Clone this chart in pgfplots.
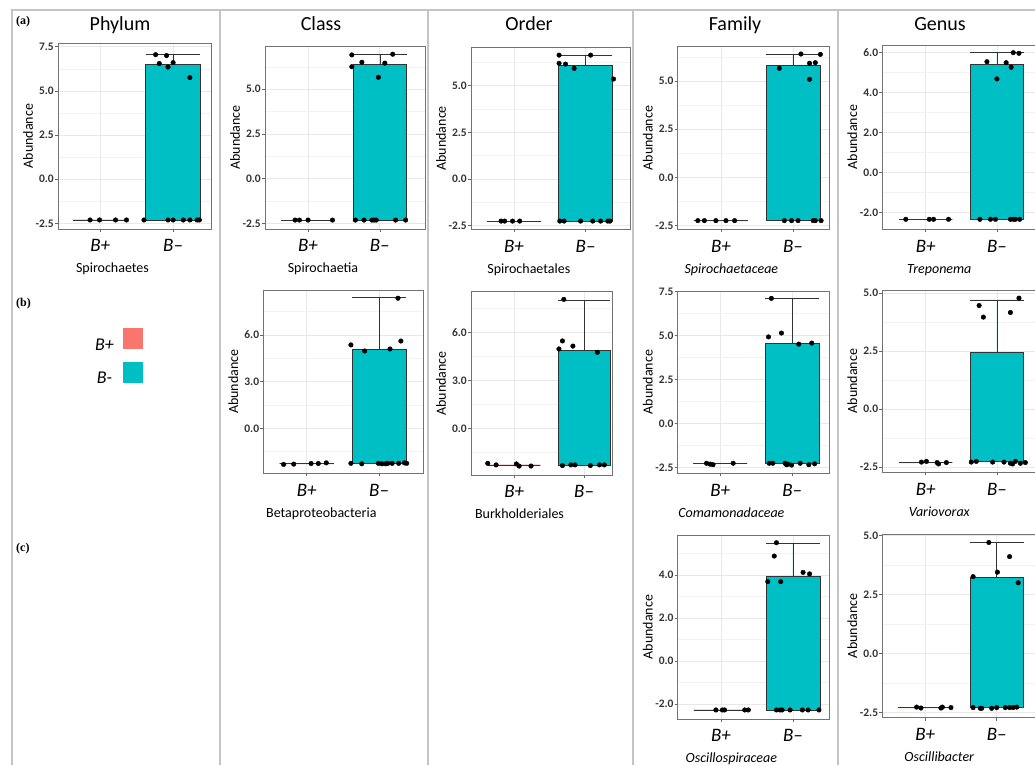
\documentclass[border=0pt]{standalone}
\usepackage{pgfplots}
\pgfplotsset{compat=1.18}
\usepgfplotslibrary{statistics}
\usepackage{fontspec}
\setmainfont{Carlito}
\newfontfamily\serifb{Liberation Serif}
\definecolor{bplus}{HTML}{F8766D}
\definecolor{bminus}{HTML}{00BFC4}
\definecolor{sep}{HTML}{C4C4C4}
\pgfplotsset{
 panel/.style={
  scale only axis, anchor=south west,
  axis line style={draw=black!55, line width=0.8pt},
  tick pos=left, tick align=outside,
  major tick length=3pt, minor tick length=0pt,
  tick style={black!60, line width=0.6pt},
  xtick={1,2}, xticklabels={B+,B–},
  xticklabel style={font=\fontsize{19}{19}\selectfont\itshape, anchor=base, yshift=-20pt},
  yticklabel style={font=\fontsize{11.5}{12}\selectfont\bfseries, text=black!80, inner sep=1pt},
  xmajorgrids, ymajorgrids, yminorgrids,
  major grid style={black!9, line width=0.7pt},
  minor grid style={black!5, line width=0.5pt},
  ylabel={Abundance},
  ylabel style={font=\fontsize{14}{14}\selectfont, at={(axis description cs:0,0.5)}, anchor=center, yshift=30pt},
  xlabel style={font=\fontsize{14}{14}\selectfont, at={(axis description cs:0.5,0)}, anchor=base, yshift=-44pt, xshift=-22pt},
  boxplot/draw direction=y,
 },
 bxp/.style={draw=black!80, line width=0.6pt},
 pts/.style={only marks, mark=*, mark size=2.3pt, black},
}
\begin{document}
\begin{tikzpicture}[x=1pt,y=1pt]
\useasboundingbox (0pt,0pt) rectangle (1035pt,765pt);
\clip (0pt,0pt) rectangle (1035pt,765pt);
% frame
\draw[sep, line width=1.5pt] (12pt,0pt) -- (12pt,755pt) -- (1040pt,755pt);
\foreach \xx in {220,428,633,838} \draw[sep, line width=1.5pt] (\xx pt,0pt) -- (\xx pt,755pt);
% titles
\foreach \xx/\tt in {120/Phylum,321/Class,529/Order,735/Family,940/Genus}
  \node[font=\fontsize{20}{20}\selectfont, anchor=base] at (\xx pt,734pt) {\tt};
\node[font=\serifb\bfseries\fontsize{12}{12}\selectfont, anchor=base west, inner sep=0] at (16pt,740pt) {(a)};
\node[font=\serifb\bfseries\fontsize{12}{12}\selectfont, anchor=base west, inner sep=0] at (16pt,458pt) {(b)};
\node[font=\serifb\bfseries\fontsize{12}{12}\selectfont, anchor=base west, inner sep=0] at (16pt,213pt) {(c)};

% legend
\begin{axis}[hide axis, scale only axis, width=50pt, height=50pt, at={(143pt,437pt)}, anchor=north east,
  xmin=0, xmax=1, ymin=0, ymax=1,
  legend plot pos=right,
  legend image code/.code={\fill[#1, draw=none] (0pt,-4pt) rectangle (20pt,17pt);},
  legend style={at={(1,1)}, anchor=north east, draw=none, fill=none, inner sep=0pt,
    row sep=9pt, column sep=8pt, font=\fontsize{18}{18}\selectfont\itshape,
    nodes={inner sep=1pt}}]
\addlegendimage{fill=bplus, draw=none}\addlegendentry{B+}
\addlegendimage{fill=bminus, draw=none}\addlegendentry{B-}
\end{axis}

% ---------- Row (a) ----------
\begin{axis}[panel, at={(58pt,536pt)}, width=153pt, height=186pt,
  xmin=0.42, xmax=2.52, ymin=-2.82, ymax=7.71,
  ytick={-2.5,0,2.5,5,7.5}, yticklabels={-2.5,0.0,2.5,5.0,7.5}, minor ytick={-1.25,1.25,3.75,6.25},
  xlabel={Spirochaetes}]
\addplot[bxp, fill=bplus, boxplot prepared={draw position=1, box extend=0.75, whisker extend=0.75, lower whisker=-2.31, lower quartile=-2.31, median=-2.31, upper quartile=-2.31, upper whisker=-2.31}] coordinates {};
\addplot[bxp, fill=bminus, boxplot prepared={draw position=2, box extend=0.75, whisker extend=0.75, lower whisker=-2.31, lower quartile=-2.31, median=-2.31, upper quartile=6.5, upper whisker=7.05}] coordinates {};
\addplot[pts] coordinates {(0.86,-2.31) (0.99,-2.31) (1.21,-2.31) (1.36,-2.31)
 (1.76,7.05) (1.91,7.0) (1.81,6.55) (1.93,6.35) (2.0,6.6) (2.23,5.75)
 (1.60,-2.31) (1.93,-2.31) (2.0,-2.31) (2.14,-2.31) (2.23,-2.31) (2.33,-2.31) (2.36,-2.31)};
\end{axis}

\begin{axis}[panel, at={(265pt,536pt)}, width=160pt, height=183pt,
  xmin=0.40, xmax=2.63, ymin=-2.82, ymax=7.42,
  ytick={-2.5,0,2.5,5}, yticklabels={-2.5,0.0,2.5,5.0}, minor ytick={-1.25,1.25,3.75,6.25},
  xlabel={Spirochaetia}]
\addplot[bxp, fill=bplus, boxplot prepared={draw position=1, box extend=0.75, whisker extend=0.75, lower whisker=-2.32, lower quartile=-2.32, median=-2.32, upper quartile=-2.32, upper whisker=-2.32}] coordinates {};
\addplot[bxp, fill=bminus, boxplot prepared={draw position=2, box extend=0.75, whisker extend=0.75, lower whisker=-2.32, lower quartile=-2.32, median=-2.32, upper quartile=6.40, upper whisker=6.96}] coordinates {};
\addplot[pts] coordinates {(0.82,-2.32) (0.88,-2.32) (1.0,-2.32) (1.34,-2.32)
 (1.61,6.26) (1.61,6.92) (1.75,6.51) (1.98,5.67) (2.07,6.46) (2.18,6.96)
 (1.66,-2.32) (1.78,-2.32) (1.89,-2.32) (1.92,-2.32) (1.95,-2.32) (2.22,-2.32) (2.36,-2.32)};
\end{axis}

\begin{axis}[panel, at={(471pt,535.7pt)}, width=159.7pt, height=182pt,
  xmin=0.40, xmax=2.63, ymin=-2.69, ymax=7.06,
  ytick={-2.5,0,2.5,5}, yticklabels={-2.5,0.0,2.5,5.0}, minor ytick={-1.25,1.25,3.75,6.25},
  xlabel={Spirochaetales}]
\addplot[bxp, fill=bplus, boxplot prepared={draw position=1, box extend=0.75, whisker extend=0.75, lower whisker=-2.25, lower quartile=-2.25, median=-2.25, upper quartile=-2.25, upper whisker=-2.25}] coordinates {};
\addplot[bxp, fill=bminus, boxplot prepared={draw position=2, box extend=0.75, whisker extend=0.75, lower whisker=-2.25, lower quartile=-2.25, median=-2.25, upper quartile=6.07, upper whisker=6.64}] coordinates {};
\addplot[pts] coordinates {(0.82,-2.25) (0.87,-2.25) (0.98,-2.25) (1.08,-2.25)
 (1.63,6.2) (1.72,6.16) (1.84,5.93) (1.63,6.64) (2.07,6.64) (2.39,5.36)
 (1.64,-2.25) (1.70,-2.25) (1.93,-2.25) (2.10,-2.25) (2.21,-2.25) (2.31,-2.25) (2.34,-2.25)};
\end{axis}

\begin{axis}[panel, at={(677.7pt,535.7pt)}, width=151.3pt, height=182.6pt,
  xmin=0.40, xmax=2.50, ymin=-2.69, ymax=6.78,
  ytick={-2.5,0,2.5,5}, yticklabels={-2.5,0.0,2.5,5.0}, minor ytick={-1.25,1.25,3.75,6.25},
  xlabel={\textit{Spirochaetaceae}}]
\addplot[bxp, fill=bplus, boxplot prepared={draw position=1, box extend=0.75, whisker extend=0.75, lower whisker=-2.24, lower quartile=-2.24, median=-2.24, upper quartile=-2.24, upper whisker=-2.24}] coordinates {};
\addplot[bxp, fill=bminus, boxplot prepared={draw position=2, box extend=0.75, whisker extend=0.75, lower whisker=-2.24, lower quartile=-2.24, median=-2.24, upper quartile=5.83, upper whisker=6.40}] coordinates {};
\addplot[pts] coordinates {(0.68,-2.24) (0.77,-2.24) (0.93,-2.24) (1.07,-2.24) (1.19,-2.24)
 (1.81,5.66) (2.11,6.4) (2.23,5.92) (2.31,5.95) (2.23,5.09) (2.38,6.38)
 (1.88,-2.24) (1.98,-2.24) (2.07,-2.24) (2.28,-2.24) (2.31,-2.24) (2.39,-2.24)};
\end{axis}

\begin{axis}[panel, at={(882.3pt,535.7pt)}, width=158pt, height=184.3pt,
  xmin=0.39, xmax=2.61, ymin=-2.83, ymax=6.385,
  ytick={-2,0,2,4,6}, yticklabels={-2.0,0.0,2.0,4.0,6.0}, minor ytick={-1,1,3,5},
  xlabel={\textit{Treponema}}]
\addplot[bxp, fill=bplus, boxplot prepared={draw position=1, box extend=0.75, whisker extend=0.75, lower whisker=-2.33, lower quartile=-2.33, median=-2.33, upper quartile=-2.33, upper whisker=-2.33}] coordinates {};
\addplot[bxp, fill=bminus, boxplot prepared={draw position=2, box extend=0.75, whisker extend=0.75, lower whisker=-2.33, lower quartile=-2.33, median=-2.33, upper quartile=5.44, upper whisker=6.0}] coordinates {};
\addplot[pts] coordinates {(0.72,-2.33) (1.05,-2.33) (1.11,-2.33) (1.32,-2.33)
 (1.86,5.55) (2.0,4.69) (2.13,5.5) (2.2,5.27) (2.23,6.0) (2.31,5.97)
 (1.76,-2.33) (1.91,-2.33) (1.98,-2.33) (2.19,-2.33) (2.23,-2.33) (2.26,-2.33) (2.32,-2.33)};
\end{axis}

% ---------- Row (b) ----------
\begin{axis}[panel, at={(263.3pt,291.7pt)}, width=160pt, height=183.3pt,
  xmin=0.40, xmax=2.61, ymin=-2.89, ymax=8.89,
  ytick={0,3,6}, yticklabels={0.0,3.0,6.0}, minor ytick={-1.5,1.5,4.5,7.5},
  xlabel={Betaproteobacteria}]
\addplot[bxp, fill=bplus, boxplot prepared={draw position=1, box extend=0.75, whisker extend=0.75, lower whisker=-2.27, lower quartile=-2.27, median=-2.27, upper quartile=-2.27, upper whisker=-2.27}] coordinates {};
\addplot[bxp, fill=bminus, boxplot prepared={draw position=2, box extend=0.75, whisker extend=0.75, lower whisker=-2.25, lower quartile=-2.25, median=-2.25, upper quartile=5.08, upper whisker=8.42}] coordinates {};
\addplot[pts] coordinates {(0.68,-2.32) (0.82,-2.30) (1.06,-2.26) (1.16,-2.26) (1.27,-2.22)
 (1.61,5.36) (1.80,4.97) (2.15,5.1) (2.30,5.61) (2.26,8.36)
 (1.61,-2.25) (1.76,-2.28) (1.99,-2.25) (2.04,-2.28) (2.09,-2.28) (2.12,-2.25) (2.18,-2.25) (2.27,-2.25) (2.35,-2.22) (2.38,-2.25)};
\end{axis}

\begin{axis}[panel, at={(471pt,290pt)}, width=141pt, height=183.3pt,
  xmin=0.38, xmax=2.40, ymin=-2.92, ymax=8.54,
  ytick={0,3,6}, yticklabels={0.0,3.0,6.0}, minor ytick={-1.5,1.5,4.5,7.5},
  xlabel={Burkholderiales}]
\addplot[bxp, fill=bplus, boxplot prepared={draw position=1, box extend=0.75, whisker extend=0.75, lower whisker=-2.29, lower quartile=-2.29, median=-2.29, upper quartile=-2.29, upper whisker=-2.29}] coordinates {};
\addplot[bxp, fill=bminus, boxplot prepared={draw position=2, box extend=0.75, whisker extend=0.75, lower whisker=-2.29, lower quartile=-2.29, median=-2.29, upper quartile=4.85, upper whisker=7.98}] coordinates {};
\addplot[pts] coordinates {(0.62,-2.19) (0.74,-2.29) (1.03,-2.23) (1.07,-2.36) (1.24,-2.36)
 (1.71,8.06) (1.64,4.96) (1.69,5.46) (1.84,5.14) (2.19,4.75)
 (1.69,-2.33) (1.81,-2.29) (1.87,-2.29) (2.09,-2.33) (2.22,-2.29) (2.29,-2.29)};
\end{axis}

\begin{axis}[panel, at={(677.7pt,291.7pt)}, width=151.3pt, height=182.3pt,
  xmin=0.41, xmax=2.51, ymin=-2.82, ymax=7.54,
  ytick={-2.5,0,2.5,5,7.5}, yticklabels={-2.5,0.0,2.5,5.0,7.5}, minor ytick={-1.25,1.25,3.75,6.25},
  xlabel={\textit{Comamonadaceae}}]
\addplot[bxp, fill=bplus, boxplot prepared={draw position=1, box extend=0.75, whisker extend=0.75, lower whisker=-2.25, lower quartile=-2.25, median=-2.25, upper quartile=-2.25, upper whisker=-2.25}] coordinates {};
\addplot[bxp, fill=bminus, boxplot prepared={draw position=2, box extend=0.75, whisker extend=0.75, lower whisker=-2.25, lower quartile=-2.25, median=-2.25, upper quartile=4.59, upper whisker=7.13}] coordinates {};
\addplot[pts] coordinates {(0.81,-2.25) (0.86,-2.30) (0.90,-2.33) (1.18,-2.25)
 (1.71,7.12) (1.67,4.93) (1.85,5.15) (2.09,4.52) (2.27,4.58)
 (1.68,-2.25) (1.73,-2.25) (1.90,-2.25) (1.92,-2.33) (1.94,-2.30) (1.99,-2.35) (2.11,-2.25) (2.23,-2.33) (2.31,-2.28)};
\end{axis}

\begin{axis}[panel, at={(882.3pt,292.7pt)}, width=158pt, height=182.3pt,
  xmin=0.39, xmax=2.61, ymin=-2.72, ymax=5.14,
  ytick={-2.5,0,2.5,5}, yticklabels={-2.5,0.0,2.5,5.0}, minor ytick={-1.25,1.25,3.75},
  xlabel={\textit{Variovorax}}]
\addplot[bxp, fill=bplus, boxplot prepared={draw position=1, box extend=0.75, whisker extend=0.75, lower whisker=-2.3, lower quartile=-2.3, median=-2.3, upper quartile=-2.3, upper whisker=-2.3}] coordinates {};
\addplot[bxp, fill=bminus, boxplot prepared={draw position=2, box extend=0.75, whisker extend=0.75, lower whisker=-2.26, lower quartile=-2.26, median=-2.26, upper quartile=2.46, upper whisker=4.71}] coordinates {};
\addplot[pts] coordinates {(0.94,-2.28) (1.01,-2.25) (1.16,-2.3) (1.18,-2.36) (1.29,-2.3)
 (1.75,4.47) (1.81,3.97) (2.19,4.17) (2.31,4.79)
 (1.64,-2.28) (1.71,-2.25) (1.94,-2.28) (2.10,-2.28) (2.19,-2.33) (2.22,-2.36) (2.26,-2.25) (2.33,-2.33) (2.40,-2.3)};
\end{axis}

% ---------- Row (c) ----------
\begin{axis}[panel, at={(677.7pt,46pt)}, width=151.3pt, height=184pt,
  xmin=0.40, xmax=2.50, ymin=-2.70, ymax=5.86,
  ytick={-2,0,2,4}, yticklabels={-2.0,0.0,2.0,4.0}, minor ytick={-1,1,3,5},
  xlabel={\textit{Oscillospiraceae}}]
\addplot[bxp, fill=bplus, boxplot prepared={draw position=1, box extend=0.75, whisker extend=0.75, lower whisker=-2.28, lower quartile=-2.28, median=-2.28, upper quartile=-2.28, upper whisker=-2.28}] coordinates {};
\addplot[bxp, fill=bminus, boxplot prepared={draw position=2, box extend=0.75, whisker extend=0.75, lower whisker=-2.28, lower quartile=-2.28, median=-2.28, upper quartile=3.92, upper whisker=5.47}] coordinates {};
\addplot[pts] coordinates {(0.93,-2.28) (1.02,-2.28) (1.05,-2.28) (1.33,-2.28) (1.38,-2.28)
 (1.77,5.5) (1.74,4.88) (1.65,3.69) (1.83,3.69) (2.14,4.12) (2.23,4.05)
 (1.77,-2.28) (1.82,-2.28) (1.85,-2.28) (1.96,-2.28) (2.13,-2.28) (2.21,-2.28) (2.36,-2.28)};
\end{axis}

\begin{axis}[panel, at={(882.3pt,47.3pt)}, width=158pt, height=183.7pt,
  xmin=0.40, xmax=2.61, ymin=-2.73, ymax=5.07,
  ytick={-2.5,0,2.5,5}, yticklabels={-2.5,0.0,2.5,5.0}, minor ytick={-1.25,1.25,3.75},
  xlabel={\textit{Oscillibacter}}]
\addplot[bxp, fill=bplus, boxplot prepared={draw position=1, box extend=0.75, whisker extend=0.75, lower whisker=-2.3, lower quartile=-2.3, median=-2.3, upper quartile=-2.3, upper whisker=-2.3}] coordinates {};
\addplot[bxp, fill=bminus, boxplot prepared={draw position=2, box extend=0.75, whisker extend=0.75, lower whisker=-2.30, lower quartile=-2.30, median=-2.30, upper quartile=3.22, upper whisker=4.72}] coordinates {};
\addplot[pts] coordinates {(0.88,-2.28) (0.94,-2.32) (1.22,-2.32) (1.24,-2.28) (1.36,-2.3)
 (1.89,4.71) (2.18,4.11) (2.01,3.45) (1.67,3.26) (2.30,3.0)
 (1.67,-2.3) (1.77,-2.33) (1.79,-2.33) (1.93,-2.33) (2.0,-2.3) (2.12,-2.3) (2.18,-2.3) (2.23,-2.3) (2.28,-2.28)};
\end{axis}
\end{tikzpicture}
\end{document}
